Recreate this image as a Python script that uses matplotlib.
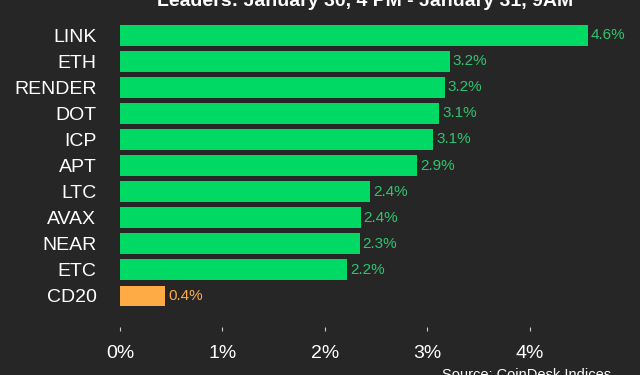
import matplotlib
matplotlib.use("Agg")
import matplotlib.pyplot as plt

plt.rcParams['font.family'] = ['Liberation Sans', 'DejaVu Sans']

# data
coins = ['LINK', 'ETH', 'RENDER', 'DOT', 'ICP', 'APT', 'LTC', 'AVAX', 'NEAR', 'ETC', 'CD20']
changes = [4.57, 3.22, 3.17, 3.12, 3.06, 2.90, 2.44, 2.35, 2.34, 2.22, 0.44]
labels = ['4.6%', '3.2%', '3.2%', '3.1%', '3.1%', '2.9%', '2.4%', '2.4%', '2.3%', '2.2%', '0.4%']
xticks = [0, 1, 2, 3, 4]
xtick_labels = ['0%', '1%', '2%', '3%', '4%']

bg = '#262626'
green = '#00d964'
green_txt = '#2fc46e'
orange = '#ffab45'

fig = plt.figure(figsize=(6.4, 3.75), dpi=100, facecolor=bg)
ax = fig.add_axes([0.1875, 0.176, 0.8, 0.765], facecolor=bg)

# move the tick line down first (this resets ticks)
ax.spines['bottom'].set_position(('outward', 13))
for s in ax.spines.values():
    s.set_visible(False)

colors = [orange if c == 'CD20' else green for c in coins]
ypos = list(range(len(coins)))
ax.barh(ypos, changes, height=0.8, color=colors)

for y, v, lab, col in zip(ypos, changes, labels, colors):
    tc = orange if col == orange else green_txt
    ax.text(v + 0.03, y, lab, color=tc, fontsize=11, va='center', ha='left')

ax.set_ylim(len(coins) - 0.5, -0.5)
ax.set_xlim(0, 5.0)
ax.set_yticks(ypos)
ax.set_yticklabels(coins, fontsize=14, color='white')
ax.tick_params(axis='y', length=0, pad=17)

ax.set_xticks(xticks)
ax.set_xticklabels(xtick_labels, fontsize=14, color='white')
ax.tick_params(axis='x', length=3, width=0.8, color='#cccccc', pad=10)

fig.text(0.57, 0.995, 'Leaders: January 30, 4 PM - January 31, 9AM', color='white',
         fontsize=14, fontweight='bold', ha='center', va='center')
fig.text(0.955, 0.0, 'Source: CoinDesk Indices', color='white', fontsize=10.5,
         ha='right', va='center')

fig.savefig('out.png', dpi=100, facecolor=bg)
